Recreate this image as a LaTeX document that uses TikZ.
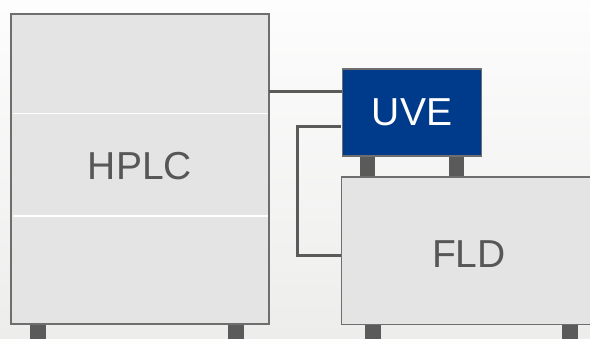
\documentclass[tikz,border=0pt]{standalone}
\usepackage{fontspec}
\setmainfont{Liberation Sans}
\definecolor{boxfill}{HTML}{E3E4E3}
\definecolor{boxline}{HTML}{6E6E6E}
\definecolor{darkgray}{HTML}{5A5A5A}
\definecolor{uveblue}{HTML}{003A8A}
\definecolor{txtgray}{HTML}{575757}
\definecolor{bgtop}{HTML}{FDFDFD}
\definecolor{bgbot}{HTML}{EDEDEC}
\tikzset{
  unit/.style={draw=boxline, line width=1.6pt, fill=boxfill},
  foot/.style={fill=darkgray, draw=none},
  divider/.style={draw=white, line width=1.5pt},
  conn/.style={draw=darkgray, line width=3pt},
  lbl/.style={font=\fontsize{39}{39}\selectfont, text=txtgray},
}
\begin{document}
\begin{tikzpicture}[x=1pt,y=-1pt]
\useasboundingbox (0,0) rectangle (590,338);
\clip (0,0) rectangle (590,338);
\shade[top color=bgtop, bottom color=bgbot] (0,0) rectangle (590,338);
% feet
\fill[foot] (30,320) rectangle (46,340);
\fill[foot] (228,320) rectangle (244,340);
\fill[foot] (359.5,150) rectangle (375,180);
\fill[foot] (448.5,150) rectangle (464,180);
\fill[foot] (365,320) rectangle (381,340);
\fill[foot] (562,320) rectangle (578,340);
% HPLC
\path[unit] (11,14) rectangle (269,324);
\node[lbl] (hplc) at (140,166) {HPLC};
\draw[divider] (12.5,113.5) -- (267.5,113.5);
\draw[divider] (12.5,216) -- (267.5,216);
\coordinate (hplcR) at (269,91);
% UVE
\node[draw=boxline, line width=1.6pt, fill=uveblue, minimum width=139pt, minimum height=87pt, inner sep=0pt, anchor=north west] (uve) at (341.7,68.3) {};
\node[font=\fontsize{39}{39}\selectfont, text=white] (uvet) at (uve.center) {UVE};
% FLD
\node[unit, minimum width=280pt, minimum height=147.5pt, inner sep=0pt, anchor=north west] (fld) at (340.7,176) {};
\node[lbl] (fldt) at (469,254) {FLD};
% connectors
\draw[conn] (hplcR) -- (uve.west |- hplcR);
\coordinate (uveL2) at ([yshift=-35.5pt]uve.west);
\draw[conn] ([xshift=-0.8pt]uve.west |- 0,126) -| (297.7,255.7) -- (fld.west |- 0,255.7);
\end{tikzpicture}
\end{document}
